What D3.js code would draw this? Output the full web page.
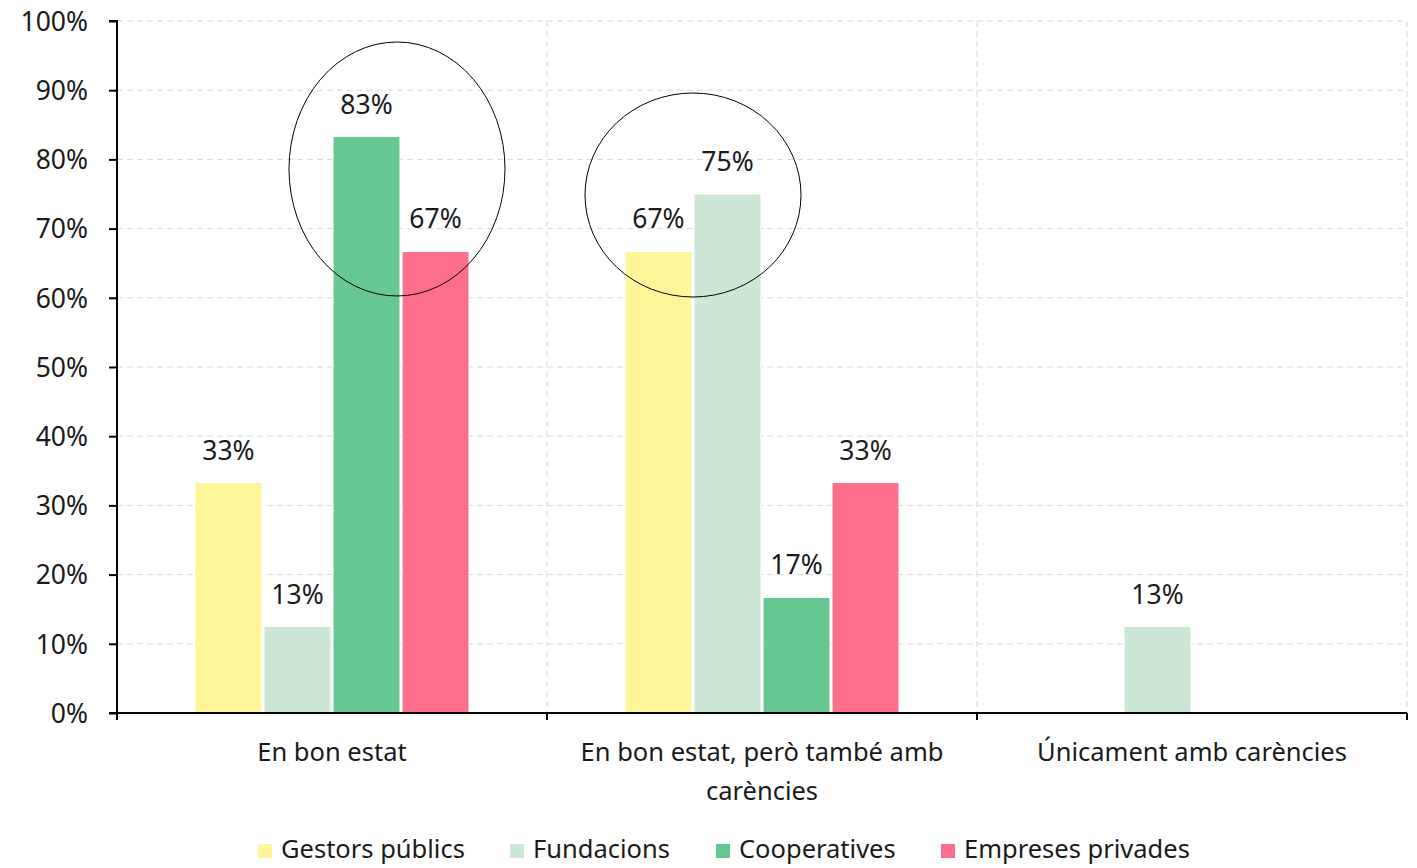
<!DOCTYPE html>
<html><head><meta charset="utf-8">
<script src="https://cdn.jsdelivr.net/npm/d3@7"></script>
<style>body{margin:0;background:#fff;} text{font-family:"Noto Sans",sans-serif;fill:#1a1a1a;}</style>
</head><body><svg id="c" width="1417" height="868"></svg>
<script>
const categories = [["En bon estat"], ["En bon estat, però també amb", "carències"], ["Únicament amb carències"]];
const series = ["Gestors públics", "Fundacions", "Cooperatives", "Empreses privades"];
const colors = ["#fff599", "#cde7d6", "#66c793", "#fd6f8d"];
const values = [
  [33.3, 66.7, 0],
  [12.5, 75.0, 12.5],
  [83.3, 16.7, 0],
  [66.7, 33.3, 0]
];
const yTicks = [0,10,20,30,40,50,60,70,80,90,100];
const highlights = [
  {cat: 0, cx: 397, cy: 169, rx: 108, ry: 127},
  {cat: 1, cx: 693, cy: 195, rx: 108, ry: 102}
];

const svg = d3.select("#c");
const L = 117, R = 1407, T = 21, B = 713;
const FS = 25.5, NFS = 26.5;
const catKeys = categories.map((c,i)=>i);
const x0 = d3.scaleBand().domain(catKeys).range([L, R]);
const x1 = d3.scaleBand().domain(d3.range(series.length)).range([0, x0.bandwidth()]).paddingInner(0.03).paddingOuter(1.13);
const y = d3.scaleLinear().domain([0,100]).range([B, T]);

// gridlines
svg.append("g").selectAll("line").data(yTicks.filter(t=>t>0)).join("line")
  .attr("x1", L).attr("x2", R).attr("y1", d=>y(d)).attr("y2", d=>y(d))
  .attr("stroke", "#d9d9d9").attr("stroke-dasharray", "6,4").attr("stroke-width", 1);
svg.append("g").selectAll("line").data(catKeys.slice(1).concat([3])).join("line")
  .attr("x1", d=> d===3 ? R : x0(d)).attr("x2", d=> d===3 ? R : x0(d)).attr("y1", T).attr("y2", B)
  .attr("stroke", "#d9d9d9").attr("stroke-dasharray", "6,4").attr("stroke-width", 1);

// bars
const flat = [];
series.forEach((s, si) => categories.forEach((c, ci) => flat.push({si, ci, v: values[si][ci]})));
svg.append("g").selectAll("rect").data(flat.filter(d=>d.v>0)).join("rect")
  .attr("x", d=> x0(d.ci) + x1(d.si))
  .attr("width", x1.bandwidth())
  .attr("y", d=> y(d.v))
  .attr("height", d=> y(0) - y(d.v))
  .attr("fill", d=> colors[d.si])
  .attr("stroke", "#fff").attr("stroke-width", 1);

// labels
svg.append("g").selectAll("text").data(flat.filter(d=>d.v>0)).join("text")
  .attr("x", d=> x0(d.ci) + x1(d.si) + x1.bandwidth()/2)
  .attr("y", d=> y(d.v) - 23)
  .attr("text-anchor", "middle")
  .attr("font-size", NFS)
  .text(d=> Math.round(d.v) + "%");

// y axis
const yAxis = svg.append("g").attr("transform", `translate(${L},0)`)
  .call(d3.axisLeft(y).tickValues(yTicks).tickFormat(d=>d+"%").tickSize(8).tickPadding(21));
yAxis.select(".domain").attr("stroke", "#000").attr("stroke-width", 2).attr("d", `M-8,${T}H0V${B}H-8`);
yAxis.selectAll(".tick line").attr("stroke", "#000").attr("stroke-width", 2);
yAxis.selectAll(".tick text").attr("font-size", NFS).attr("font-family", '"Noto Sans",sans-serif').attr("fill", "#1a1a1a").attr("dy", "0.35em");

// x axis
const xg = svg.append("g");
xg.append("line").attr("x1", L-8).attr("x2", R).attr("y1", B).attr("y2", B).attr("stroke", "#000").attr("stroke-width", 2);
xg.selectAll("line.tk").data(catKeys.concat([3])).join("line").attr("class","tk")
  .attr("x1", d=> d===3 ? R : x0(d)).attr("x2", d=> d===3 ? R : x0(d)).attr("y1", B).attr("y2", B+7)
  .attr("stroke", "#000").attr("stroke-width", 2);
xg.selectAll("text.cat").data(categories).join("text").attr("class","cat")
  .attr("x", (d,i)=> x0(i) + x0.bandwidth()/2)
  .attr("y", B + 48)
  .attr("text-anchor", "middle").attr("font-size", FS)
  .each(function(d){
    const t = d3.select(this);
    d.forEach((line, li) => t.append("tspan").attr("x", t.attr("x")).attr("dy", li===0?0:39).text(line));
  });

// highlight ellipses
svg.append("g").selectAll("ellipse").data(highlights).join("ellipse")
  .attr("cx", d=>d.cx).attr("cy", d=>d.cy).attr("rx", d=>d.rx).attr("ry", d=>d.ry)
  .attr("fill", "none").attr("stroke", "#000").attr("stroke-width", 1);

// legend
const legX = [258, 510, 716, 941];
const lg = svg.append("g").selectAll("g").data(series).join("g")
  .attr("transform", (d,i)=>`translate(${legX[i]},849)`);
lg.append("rect").attr("x", 0).attr("y", -5).attr("width", 14).attr("height", 14).attr("fill", (d,i)=>colors[i]);
lg.append("text").attr("x", 23).attr("y", 0).attr("dy", "0.35em").attr("font-size", FS).text(d=>d);
</script></body></html>
